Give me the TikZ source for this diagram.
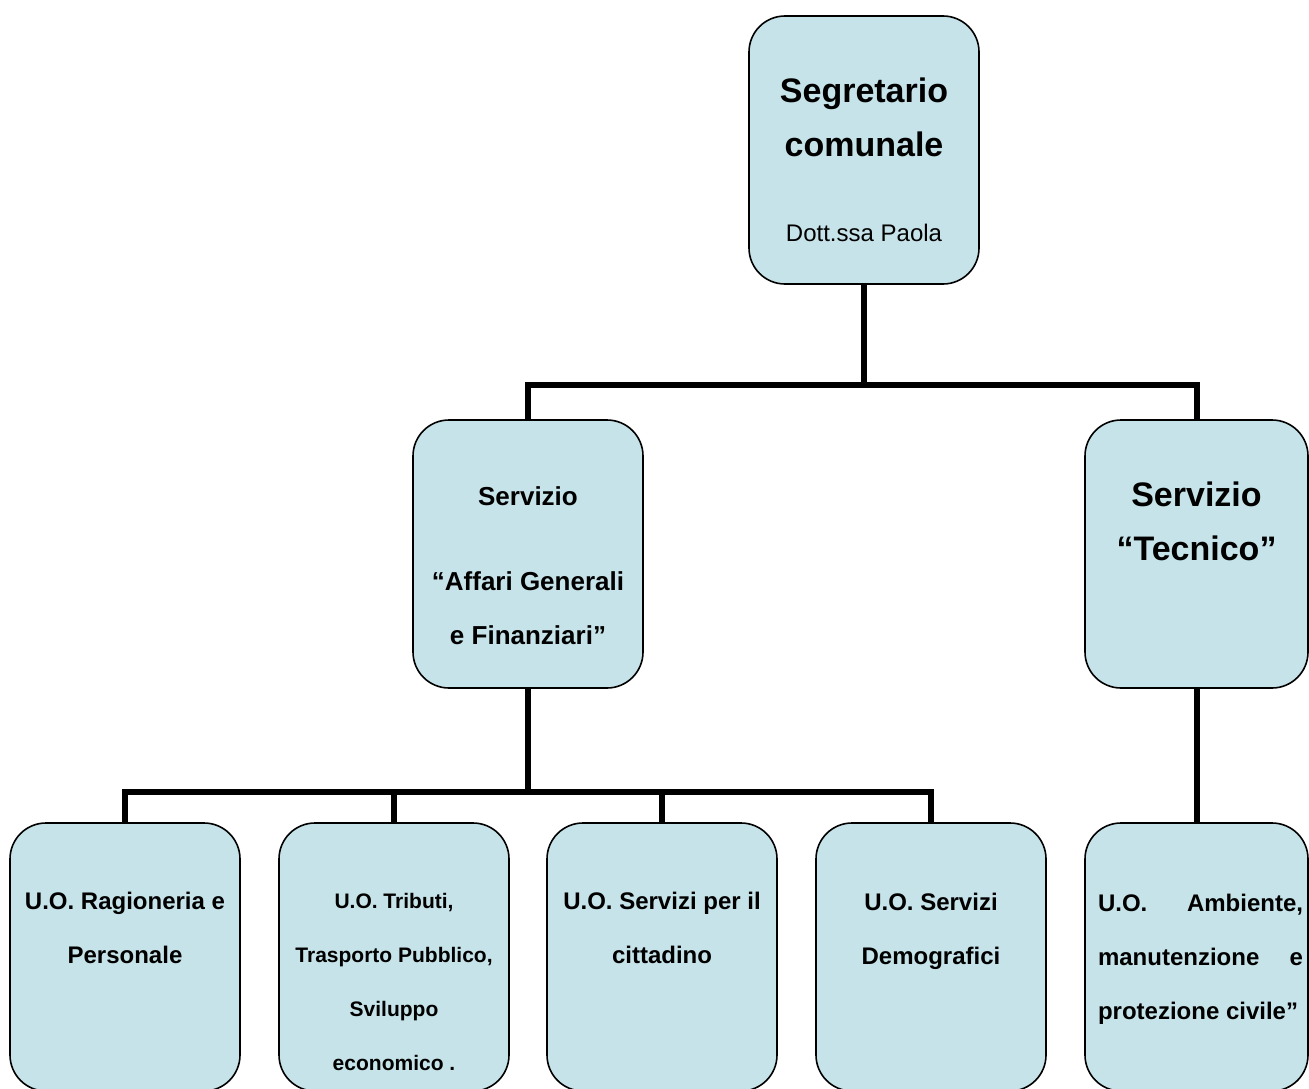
\documentclass[tikz,border=0pt]{standalone}
\usepackage{fontspec}
\setmainfont{Liberation Sans}
\definecolor{boxblue}{RGB}{197,227,232}

\begin{document}
\begin{tikzpicture}[x=1pt,y=1pt,
    box/.style={draw=black, fill=boxblue, line width=1.6pt, rounded corners=36pt,
      minimum width=230pt, minimum height=268pt, inner sep=0pt},
    narrowbox/.style={box, minimum width=223pt},
    conn/.style={line width=6pt},
    big/.style={font=\bfseries\fontsize{34}{54}\selectfont, align=center},
    mid/.style={font=\bfseries\fontsize{24}{54}\selectfont, align=center},
    small/.style={font=\bfseries\fontsize{21}{54}\selectfont, align=center}]
    \useasboundingbox (0,0) rectangle (1309,-1089);
    \clip (0,0) rectangle (1309,-1089);
    \node[box] (seg) at (864,-150) {};
    \node[box] (ag) at (528,-554) {};
    \node[narrowbox] (tec) at (1196.5,-554) {};
    \node[box] (rag) at (125,-957) {};
    \node[box] (trib) at (394,-957) {};
    \node[box] (cit) at (662,-957) {};
    \node[box] (dem) at (931,-957) {};
    \node[narrowbox] (amb) at (1196.5,-957) {};
    \coordinate (j1) at (864,-385);
    \coordinate (j2) at (528,-792);
    \draw[conn] (seg.south) -- (j1);
    \draw[conn] (ag.north) |- (j1) -| (tec.north);
    \draw[conn] (ag.south) -- (j2);
    \draw[conn] (rag.north) |- (j2) -| (dem.north);
    \draw[conn] (trib.north) -- (trib.north |- j2);
    \draw[conn] (cit.north) -- (cit.north |- j2);
    \draw[conn] (tec.south) -- (amb.north);
    \node[big] (segt) at (864,-117) {Segretario\\comunale};
    \node[font=\fontsize{24}{28}\selectfont] (dott) at (864,-233) {Dott.ssa Paola};
    \node[mid, font=\bfseries\fontsize{26}{54}\selectfont] (agt) at (528,-566) {Servizio\\[31pt]“Affari Generali\\e Finanziari”};
    \node[big] (tect) at (1196.5,-521) {Servizio\\“Tecnico”};
    \node[mid] (ragt) at (125,-928) {U.O. Ragioneria e\\Personale};
    \node[small] (tribt) at (394,-982) {U.O. Tributi,\\Trasporto Pubblico,\\Sviluppo\\economico .};
    \node[mid] (citt) at (662,-928) {U.O. Servizi per il\\cittadino};
    \node[mid] (demt) at (931,-931) {U.O. Servizi\\Demografici};
    \node[mid, align=left] (ambt) at (1200.5,-959) {\makebox[205pt][s]{U.O. Ambiente,}\\
      \makebox[205pt][s]{manutenzione e}\\\makebox[205pt][l]{protezione civile”}};
\end{tikzpicture}
\end{document}
